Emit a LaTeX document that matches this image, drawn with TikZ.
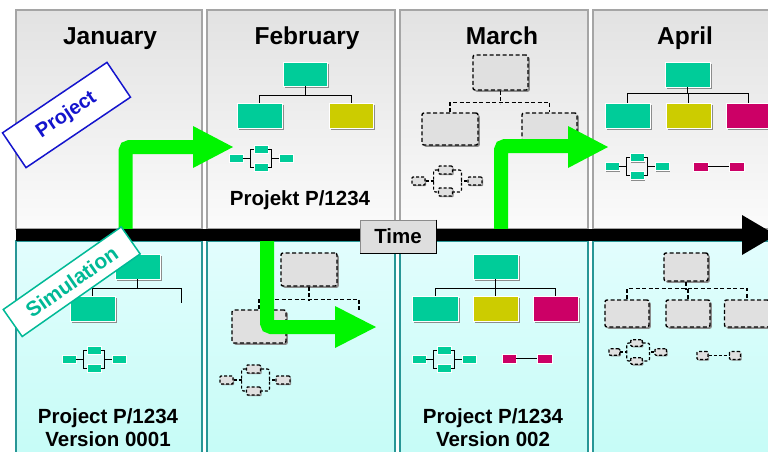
\documentclass[tikz,border=0pt]{standalone}
\usepackage{fontspec}
\setmainfont{Liberation Sans}
\usetikzlibrary{shadows}
\definecolor{tealA}{RGB}{0,204,153}
\definecolor{yelA}{RGB}{204,204,0}
\definecolor{magA}{RGB}{204,0,102}
\definecolor{grnA}{RGB}{0,245,0}
\definecolor{dgray}{RGB}{224,224,224}
\definecolor{topA}{RGB}{226,226,226}
\definecolor{topB}{RGB}{251,251,251}
\definecolor{botA}{RGB}{226,253,253}
\definecolor{botB}{RGB}{196,252,246}
\definecolor{colline}{RGB}{165,165,165}
\definecolor{tealline}{RGB}{40,150,150}
\definecolor{projblue}{RGB}{20,20,205}
\definecolor{simteal}{RGB}{0,185,150}
\definecolor{timegray}{RGB}{222,222,222}
\tikzset{
  topcol/.style={top color=topA,bottom color=topB,draw=colline,line width=1.2pt},
  botcol/.style={top color=botA,bottom color=botB,draw=tealline,line width=1.2pt},
  shad/.style={drop shadow={shadow xshift=1.8pt,shadow yshift=-1.8pt,fill=black!45,opacity=1}},
  sshad/.style={drop shadow={shadow xshift=1.2pt,shadow yshift=-1.2pt,fill=black!45,opacity=1}},
  obox/.style={shad,draw=white,line width=0.8pt,inner sep=0pt,minimum width=45,minimum height=25},
  dbox/.style={shad,draw=black,dash pattern=on 4pt off 2.5pt,line width=1.4pt,fill=dgray,rounded corners=2pt,inner sep=0pt},
  sbox/.style={sshad,draw=white,line width=0.5pt,inner sep=0pt,minimum width=14,minimum height=8},
  sdbox/.style={sshad,draw=black,dash pattern=on 3pt off 2pt,line width=1.2pt,fill=dgray,rounded corners=1pt,inner sep=0pt,minimum width=14,minimum height=8},
  conn/.style={draw=black,line width=0.8pt},
  dconn/.style={draw=black,dash pattern=on 4pt off 2.5pt,line width=1.3pt},
  sdconn/.style={draw=black,dash pattern=on 3pt off 2pt,line width=1.2pt,rounded corners=2pt},
  month/.style={font=\fontsize{24.5}{28}\selectfont\bfseries,anchor=base},
  lbl/.style={font=\fontsize{20.5}{24}\selectfont\bfseries,anchor=base},
  garrow/.style={draw=grnA,line width=14pt,rounded corners=4pt},
  ghead/.style={fill=grnA},
  procicon/.pic={
    \node[sbox,fill=tealA] (-l) at (7,0) {};
    \node[sbox,fill=tealA] (-t) at (32,-9) {};
    \node[sbox,fill=tealA] (-b) at (32,9) {};
    \node[sbox,fill=tealA] (-r) at (57,0) {};
    \draw[conn] (-l.east) -- ++(7,0) coordinate (-bl);
    \draw[conn] (-t.west) -| (-bl) |- (-b.west);
    \draw[conn] (-r.west) -- ++(-7,0) coordinate (-br);
    \draw[conn] (-t.east) -| (-br) |- (-b.east);
  },
  dcluster/.pic={
    \node[sdbox,minimum width=13] (-l) at (6.5,0) {};
    \node[sdbox] (-t) at (33.5,-11) {};
    \node[sdbox] (-b) at (33.5,11) {};
    \node[sdbox] (-r) at (63,0) {};
    \draw[sdconn] (-l.east) -- ++(8,0) coordinate (-bl);
    \draw[sdconn] (-t.west) -| (-bl) |- (-b.west);
    \draw[sdconn] (-r.west) -- ++(-6,0) coordinate (-br);
    \draw[sdconn] (-t.east) -| (-br) |- (-b.east);
  },
}
\begin{document}
\begin{tikzpicture}[x=1pt,y=-1pt]
\useasboundingbox (0,0) rectangle (768,451);
\clip (0,0) rectangle (768,451);
\fill[white] (0,0) rectangle (768,451);
% columns
\path[topcol] (16,10) rectangle (202,229);
\path[topcol] (207,10) rectangle (395,229);
\path[topcol] (400,10) rectangle (588,229);
\path[topcol] (593,10) rectangle (790,229);
\path[botcol] (16,241) rectangle (202,470);
\path[botcol] (207,241) rectangle (395,470);
\path[botcol] (400,241) rectangle (588,470);
\path[botcol] (593,241) rectangle (790,470);
% month titles
\node[month] (jan) at (110,44) {January};
\node[month] (feb) at (307,44) {February};
\node[month] (mar) at (502,44) {March};
\node[month] (apr) at (685,44) {April};
% February top org
\node[obox,fill=tealA,minimum width=44,minimum height=24] (fp) at (305,74) {};
\node[obox,fill=tealA] (fc1) at (259.5,115.5) {};
\node[obox,fill=yelA,minimum width=44] (fc2) at (351,115.5) {};
\draw[conn] (fp.south) -- ++(0,10);
\draw[conn] (fc1.north) -- ++(0,-7) -| (fc2.north);
\pic (fproc) at (229,158) {procicon};
\node[lbl] (ftext) at (300,205) {Projekt P/1234};
% April top org
\node[obox,fill=tealA] (ap) at (687.5,74.5) {};
\node[obox,fill=tealA] (ac1) at (627.5,115.5) {};
\node[obox,fill=yelA] (ac2) at (688.5,115.5) {};
\node[obox,fill=magA] (ac3) at (748.5,115.5) {};
\draw[conn] (ap.south) -- ++(0,7);
\draw[conn] (ac1.north) -- ++(0,-9) -| (ac3.north);
\draw[conn] (ac2.north) -- ++(0,-9);
\pic (aproc) at (605,166.5) {procicon};
\node[sbox,fill=magA,minimum width=15,minimum height=9] (am1) at (700.5,166.5) {};
\node[sbox,fill=magA,minimum width=15,minimum height=9] (am2) at (736.5,166.5) {};
\draw[conn,line width=1.2pt] (am1.east) -- (am2.west);
% March top dashed org
\node[dbox,minimum width=55,minimum height=35] (mp) at (500.5,72.5) {};
\node[dbox,minimum width=56,minimum height=32] (mc1) at (450,129) {};
\node[dbox,minimum width=55,minimum height=32] (mc2) at (549.5,129) {};
\draw[dconn] (mp.south) -- ++(0,13);
\draw[dconn] (mc1.north) -- ++(0,-10) -| (mc2.north);
\pic (mclu) at (412,181) {dcluster};
% January bottom org
\node[obox,fill=tealA] (jp) at (137.5,266.5) {};
\node[obox,fill=tealA] (jc1) at (92.5,308.5) {};
\coordinate (jr) at (181,303);
\draw[conn] (jp.south) -- ++(0,10);
\draw[conn] (jc1.north) -- ++(0,-7) -| (jr);
\pic (jproc) at (62,359) {procicon};
\node[lbl] (jtext1) at (108,423) {Project P/1234};
\node[lbl] (jtext2) at (108,446) {Version 0001};
% February bottom dashed org
\node[dbox,minimum width=56,minimum height=33] (gp) at (309,269.5) {};
\node[dbox,minimum width=54,minimum height=33] (gc1) at (259,326.5) {};
\coordinate (gr) at (359,310);
\draw[dconn] (gp.south) -- ++(0,14);
\draw[dconn] (gc1.north) -- ++(0,-10) -| (gr);
\pic (gclu) at (220,380) {dcluster};
% March bottom org
\node[obox,fill=tealA] (np) at (495.5,266.5) {};
\node[obox,fill=tealA,minimum width=46] (nc1) at (435,308.5) {};
\node[obox,fill=yelA] (nc2) at (495.5,308.5) {};
\node[obox,fill=magA] (nc3) at (555.5,308.5) {};
\draw[conn] (np.south) -- ++(0,10);
\draw[conn] (nc1.north) -- ++(0,-7) -| (nc3.north);
\draw[conn] (nc2.north) -- ++(0,-7);
\pic (nproc) at (412,359) {procicon};
\node[sbox,fill=magA,minimum width=14,minimum height=9] (nm1) at (509,358.5) {};
\node[sbox,fill=magA,minimum width=15,minimum height=9] (nm2) at (544.5,358.5) {};
\draw[conn,line width=1.2pt] (nm1.east) -- (nm2.west);
\node[lbl] (ntext1) at (493,423) {Project P/1234};
\node[lbl] (ntext2) at (493,446) {Version 002};
% April bottom dashed org
\node[dbox,minimum width=44,minimum height=28] (bp) at (686,267) {};
\node[dbox,minimum width=44,minimum height=27] (bc1) at (627,313.5) {};
\node[dbox,minimum width=44,minimum height=27] (bc2) at (688,313.5) {};
\node[dbox,minimum width=45,minimum height=27] (bc3) at (747,313.5) {};
\draw[dconn] (bp.south) -- ++(0,8);
\draw[dconn] (bc1.north) -- ++(0,-11) -| (bc3.north);
\draw[dconn] (bc2.north) -- ++(0,-11);
\pic[scale=0.82,every node/.append style={transform shape}] (bclu) at (609,352) {dcluster};
\node[sdbox,minimum width=11,minimum height=8] (bd1) at (702.5,355.5) {};
\node[sdbox,minimum width=11,minimum height=8] (bd2) at (735,355.5) {};
\draw[sdconn] (bd1.east) -- (bd2.west);
% green arrows
\coordinate (g1s) at (125.5,236);
\coordinate (g1e) at (195,147);
\draw[garrow] (g1s) |- (g1e);
\fill[ghead] (193,126) -- (233,147) -- (193,168) -- cycle;
\coordinate (g2s) at (267,236);
\coordinate (g2e) at (337,327);
\draw[garrow] (g2s) |- (g2e);
\fill[ghead] (335,306) -- (376,327) -- (335,348) -- cycle;
\coordinate (g3s) at (501,236);
\coordinate (g3e) at (570,146);
\draw[garrow] (g3s) |- (g3e);
\fill[ghead] (568,126) -- (608,147) -- (568,168) -- cycle;
% time bar
\fill[black] (16,229) rectangle (744,241);
\fill[black] (742,215) -- (776,235) -- (742,255) -- cycle;
\node[fill=timegray,draw=black!45,line width=0.8pt,minimum width=76,minimum height=33,inner sep=0pt,font=\fontsize{20.5}{24}\selectfont\bfseries] (time) at (398,236.5) {Time};
\draw[black,line width=1.3pt] (time.north east) -- (time.south east) -- (time.south west);
% labels
\node[draw=projblue,line width=1.5pt,fill=white,rotate=34,minimum width=126,minimum height=42,inner sep=0pt,text=projblue,font=\fontsize{20}{24}\selectfont\bfseries] (proj) at (66.5,115) {Project};
\node[draw=simteal,line width=1.5pt,fill=white,rotate=35,minimum width=144,minimum height=33,inner sep=0pt,text=simteal,font=\fontsize{21}{24}\selectfont\bfseries] (sim) at (71.7,281.7) {Simulation};
\end{tikzpicture}
\end{document}
